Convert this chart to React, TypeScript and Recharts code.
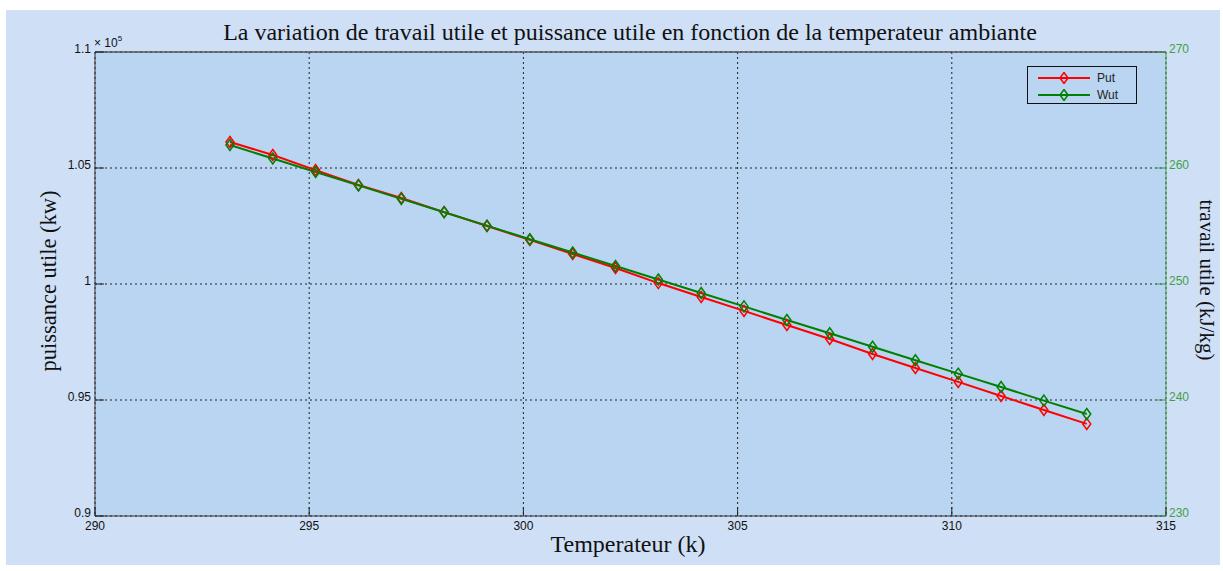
import React from "react";
import {
  LineChart,
  Line,
  XAxis,
  YAxis,
  CartesianGrid,
  ReferenceLine,
} from "recharts";

// temperature ambiante (K)
const temps = [
  293.15, 294.15, 295.15, 296.15, 297.15, 298.15, 299.15, 300.15, 301.15,
  302.15, 303.15, 304.15, 305.15, 306.15, 307.15, 308.15, 309.15, 310.15,
  311.15, 312.15, 313.15,
];

// puissance utile (kW)
const put = [
  106120, 105560, 104910, 104270, 103710, 103100, 102500, 101900, 101290,
  100690, 100040, 99440, 98840, 98230, 97630, 96980, 96380, 95780, 95170,
  94570, 93970,
];

// travail utile (kJ/kg)
const wut = [
  261.98, 260.82, 259.66, 258.5, 257.34, 256.18, 255.03, 253.86, 252.71,
  251.55, 250.39, 249.22, 248.07, 246.9, 245.75, 244.59, 243.43, 242.27,
  241.12, 239.95, 238.79,
];

const xTicks = [290, 295, 300, 305, 310, 315];
const leftTicks = [90000, 95000, 100000, 105000, 110000];
const rightTicks = [230, 240, 250, 260, 270];

const data = temps.map((T, i) => ({ T, Put: put[i], Wut: wut[i] }));

const RED = "#ff0000";
const GREEN = "#008000";
const AXIS_GREEN = "#3f9f4a";
const SANS = "'Liberation Sans', Arial, sans-serif";
const SERIF = "'Liberation Serif', 'Times New Roman', serif";

function Diamond(props: any) {
  const { cx, cy, stroke } = props;
  if (cx == null || cy == null) return null;
  return (
    <path
      d={`M${cx},${cy - 5.5} L${cx + 4},${cy} L${cx},${cy + 5.5} L${cx - 4},${cy} Z`}
      fill="none"
      stroke={stroke}
      strokeWidth={1.5}
    />
  );
}

function BottomTick(props: any) {
  const { x, y, payload } = props;
  return (
    <g>
      <line x1={x} y1={y} x2={x} y2={y - 9} stroke="#222" />
      <text x={x} y={y + 14} textAnchor="middle" fontSize={12} fontFamily={SANS} fill="#111">
        {payload.value}
      </text>
    </g>
  );
}

function LeftTick(props: any) {
  const { x, y, payload } = props;
  return (
    <g>
      <line x1={x} y1={y} x2={x + 9} y2={y} stroke="#222" />
      <text x={x - 4} y={y + 1} textAnchor="end" fontSize={12} fontFamily={SANS} fill="#111">
        {String(payload.value / 100000)}
      </text>
    </g>
  );
}

function RightTick(props: any) {
  const { x, y, payload } = props;
  return (
    <g>
      <line x1={x} y1={y} x2={x - 9} y2={y} stroke={AXIS_GREEN} />
      <text x={x + 3} y={y + 1} textAnchor="start" fontSize={12} fontFamily={SANS} fill={AXIS_GREEN}>
        {payload.value}
      </text>
    </g>
  );
}

function LegendBox() {
  const row = (label: string, color: string) => (
    <div style={{ display: "flex", alignItems: "center", height: 17 }}>
      <svg width={56} height={12}>
        <line x1={2} y1={6} x2={54} y2={6} stroke={color} strokeWidth={2} />
        <path d="M28,0.5 L32,6 L28,11.5 L24,6 Z" fill="none" stroke={color} strokeWidth={1.5} />
      </svg>
      <span style={{ fontFamily: SANS, fontSize: 12, color: "#222", marginLeft: 5 }}>{label}</span>
    </div>
  );
  return (
    <div
      style={{
        position: "absolute",
        left: 1027,
        top: 66,
        width: 110,
        height: 38,
        border: "1px solid #111",
        background: "#b9d5f2",
        padding: "2px 0 0 8px",
        boxSizing: "border-box",
      }}
    >
      {row("Put", RED)}
      {row("Wut", GREEN)}
    </div>
  );
}

export default function App() {
  return (
    <div
      style={{
        position: "absolute",
        left: 0,
        top: 0,
        width: 1223,
        height: 571,
        background: "#ffffff",
      }}
    >
      <div
        style={{
          position: "absolute",
          left: 6,
          top: 10,
          width: 1214,
          height: 555,
          background: "#cfe0f6",
        }}
      />
      <div style={{ position: "absolute", left: 0, top: 0 }}>
        <LineChart
          width={1223}
          height={571}
          data={data}
          margin={{ top: 52, right: 7, bottom: 25, left: 35 }}
        >
          <CartesianGrid
            yAxisId="left"
            fill="#b9d5f2"
            stroke="#222"
            strokeDasharray="2 3"
          />
          <XAxis
            dataKey="T"
            type="number"
            domain={[290, 315]}
            ticks={xTicks}
            allowDataOverflow
            height={30}
            stroke="#333"
            tickSize={0}
            tickMargin={0}
            tick={<BottomTick />}
            interval={0}
          />
          <YAxis
            yAxisId="left"
            domain={[90000, 110000]}
            ticks={leftTicks}
            width={60}
            stroke="#333"
            tickSize={0}
            tickMargin={0}
            tick={<LeftTick />}
            interval={0}
          />
          <YAxis
            yAxisId="right"
            orientation="right"
            domain={[230, 270]}
            ticks={rightTicks}
            width={50}
            stroke={AXIS_GREEN}
            tickSize={0}
            tickMargin={0}
            tick={<RightTick />}
            interval={0}
          />
          <ReferenceLine yAxisId="left" y={110000} stroke="#555" strokeWidth={1.5} />
          <Line
            yAxisId="left"
            dataKey="Put"
            stroke={RED}
            strokeWidth={2}
            dot={<Diamond stroke={RED} />}
            isAnimationActive={false}
          />
          <Line
            yAxisId="right"
            dataKey="Wut"
            stroke={GREEN}
            strokeWidth={2}
            dot={<Diamond stroke={GREEN} />}
            isAnimationActive={false}
          />
          <text x={630} y={40} textAnchor="middle" fontSize={24} fontFamily={SERIF} fill="#111">
            La variation de travail utile et puissance utile en fonction de la temperateur ambiante
          </text>
          <text x={628} y={552} textAnchor="middle" fontSize={24} fontFamily={SERIF} fill="#111">
            Temperateur (k)
          </text>
          <text
            x={56}
            y={281}
            textAnchor="middle"
            fontSize={22.5}
            fontFamily={SERIF}
            fill="#111"
            transform="rotate(-90 56 281)"
          >
            puissance utile (kw)
          </text>
          <text
            x={1200}
            y={280}
            textAnchor="middle"
            fontSize={21}
            fontFamily={SERIF}
            fill="#111"
            transform="rotate(90 1200 280)"
          >
            travail utile (kJ/kg)
          </text>
          <text x={94} y={47} fontSize={12} fontFamily={SANS} fill="#111">
            × 10
            <tspan dy={-6} fontSize={8}>
              5
            </tspan>
          </text>
        </LineChart>
      </div>
      <LegendBox />
    </div>
  );
}
